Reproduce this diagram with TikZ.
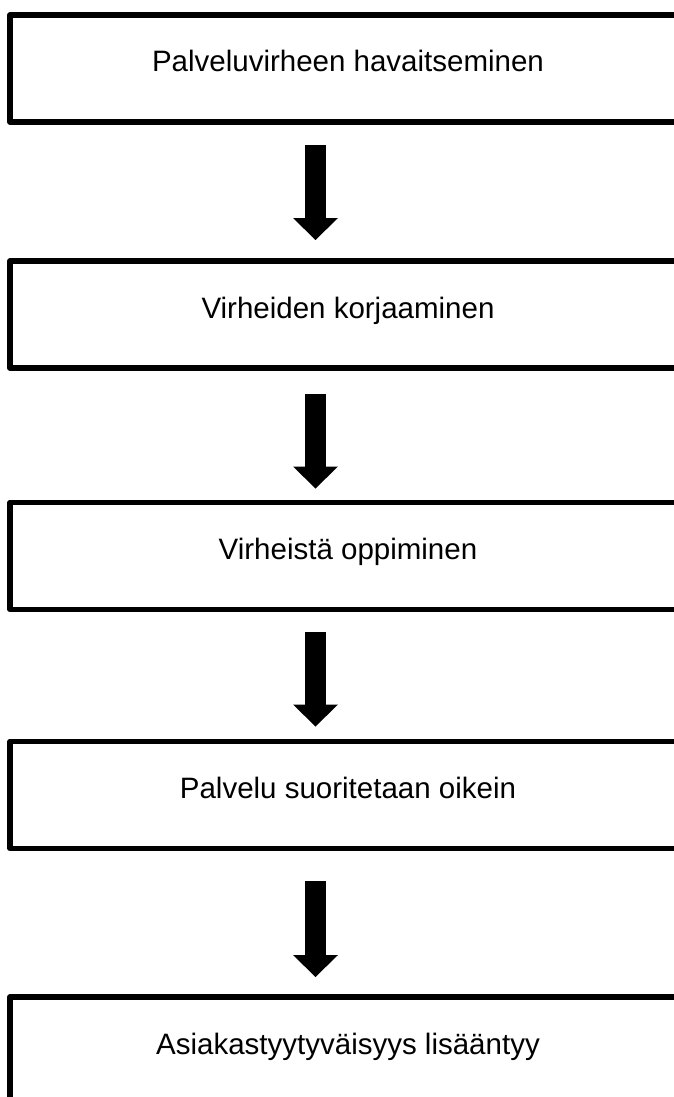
\documentclass[tikz,border=0pt]{standalone}
\usepackage{fontspec}
\setmainfont{Liberation Sans}
\usetikzlibrary{arrows.meta}

\tikzset{
  stagebox/.style={draw=black, line width=5.5pt, line join=round, fill=white,
    rectangle, outer sep=0pt, inner sep=0pt,
    minimum width=676pt, minimum height=107pt,
    text height=21pt, text depth=14pt,
    font=\fontsize{29.5}{35}\selectfont},
  flowarrow/.style={draw=black, line width=21pt,
    -{Triangle[width=45pt, length=22pt, line width=0pt]}},
}

\begin{document}
\begin{tikzpicture}[x=1pt, y=-1pt]
  \useasboundingbox (0,0) rectangle (674,1097);
  \clip (0,0) rectangle (674,1097);

  % process stages, top to bottom
  \node[stagebox] (b1) at (348,68.5)   {Palveluvirheen havaitseminen};
  \node[stagebox] (b2) at (348,314.5)  {Virheiden korjaaminen};
  \node[stagebox] (b3) at (348,556)    {Virheistä oppiminen};
  \node[stagebox] (b4) at (348,795)    {Palvelu suoritetaan oikein};
  \node[stagebox] (b5) at (348,1050.5) {Asiakastyytyväisyys lisääntyy};

  % block arrows between consecutive stages
  \draw[flowarrow, shorten <=23pt,   shorten >=21pt]
    ([xshift=-32.5pt]b1.south) -- ([xshift=-32.5pt]b2.north);
  \draw[flowarrow, shorten <=26pt,   shorten >=14pt]
    ([xshift=-32.5pt]b2.south) -- ([xshift=-32.5pt]b3.north);
  \draw[flowarrow, shorten <=22.5pt, shorten >=15pt]
    ([xshift=-32.5pt]b3.south) -- ([xshift=-32.5pt]b4.north);
  \draw[flowarrow, shorten <=32.5pt, shorten >=20pt]
    ([xshift=-32.5pt]b4.south) -- ([xshift=-32.5pt]b5.north);
\end{tikzpicture}
\end{document}
